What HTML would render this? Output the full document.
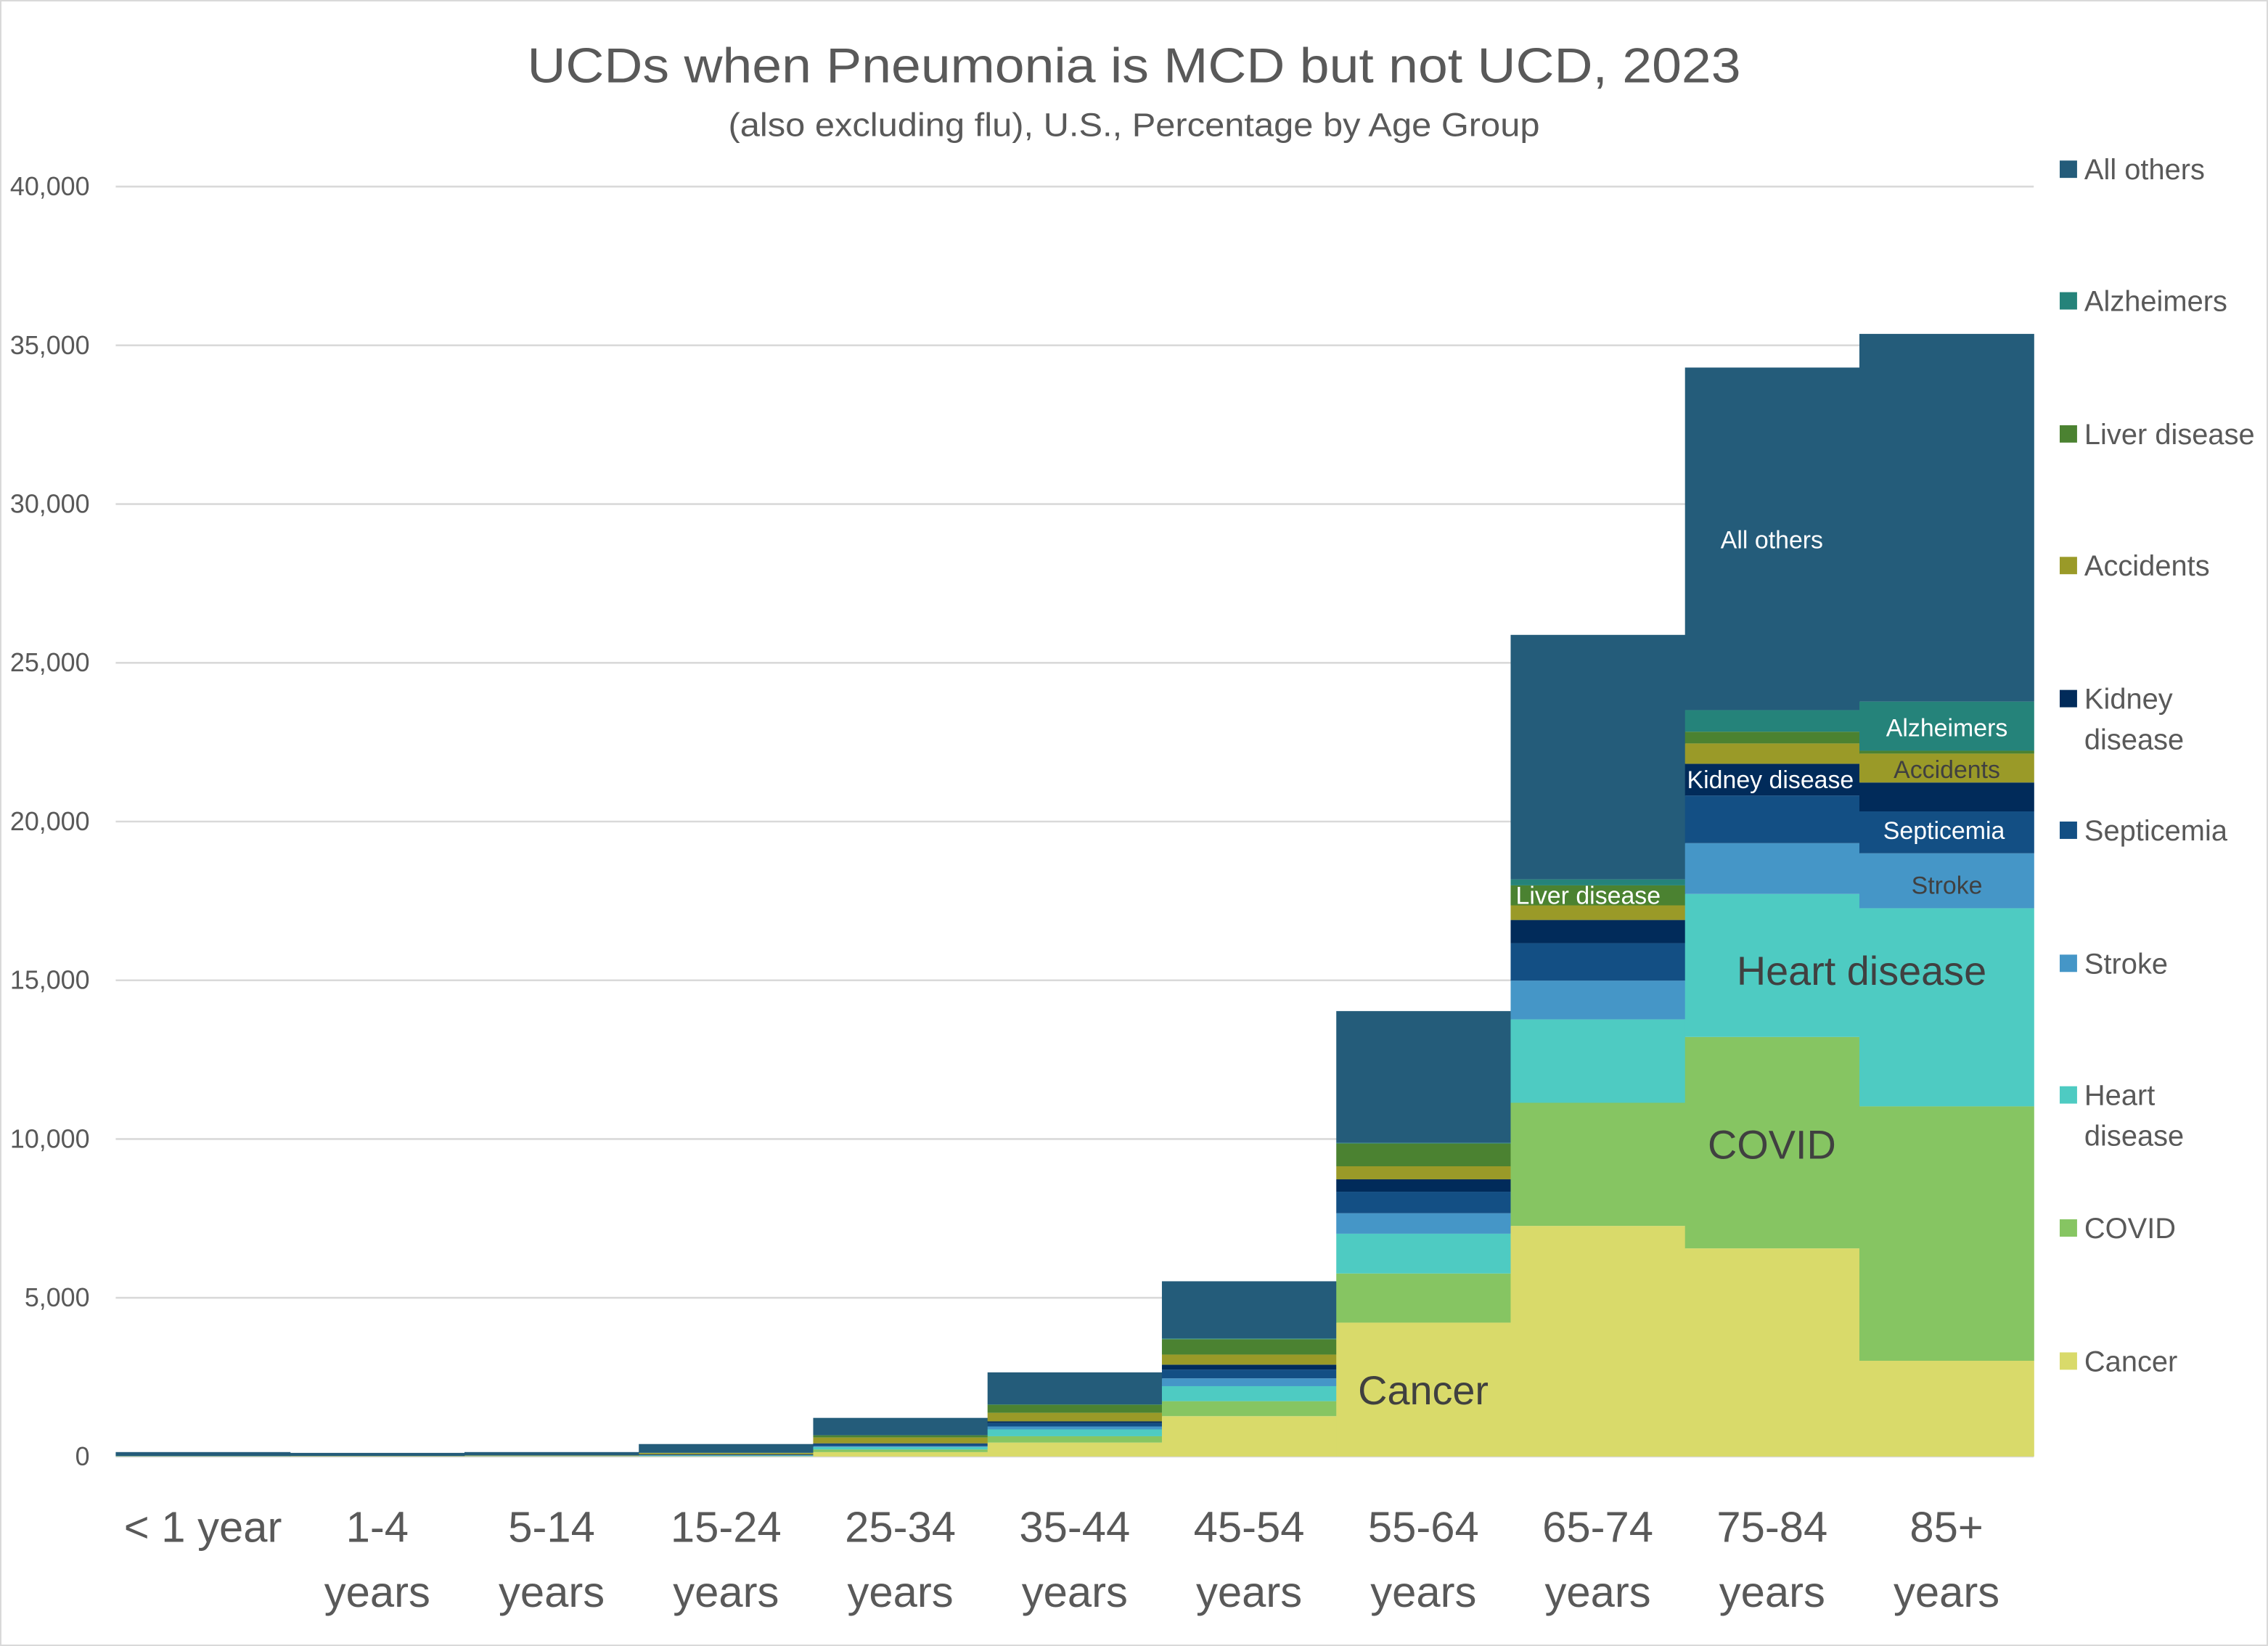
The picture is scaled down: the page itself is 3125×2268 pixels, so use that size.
<!DOCTYPE html>
<html><head><meta charset="utf-8"><style>
html,body{margin:0;padding:0;background:#fff;}
svg{display:block;font-family:"Liberation Sans","DejaVu Sans",sans-serif;}
</style></head><body>
<svg id="chart" width="3125" height="2268" viewBox="0 0 1568 1138" preserveAspectRatio="none" xmlns="http://www.w3.org/2000/svg">
<rect x="0.5" y="0.5" width="1567" height="1137" fill="#fff" stroke="#d9d9d9"/>
<text x="784" y="57" text-anchor="middle" font-size="34" fill="#595959" textLength="839" lengthAdjust="spacingAndGlyphs">UCDs when Pneumonia is MCD but not UCD, 2023</text>
<text x="784" y="94" text-anchor="middle" font-size="23" fill="#595959" textLength="561" lengthAdjust="spacingAndGlyphs">(also excluding flu), U.S., Percentage by Age Group</text>
<g id="grid"></g><g id="bars"></g><g id="ylabels"></g><g id="xlabels"></g><g id="inlabels"></g><g id="legend"></g>
</svg>
<script>
const categories = ["< 1 year","1-4 years","5-14 years","15-24 years","25-34 years","35-44 years","45-54 years","55-64 years","65-74 years","75-84 years","85+ years"];
const seriesNames = ["Cancer","COVID","Heart disease","Stroke","Septicemia","Kidney disease","Accidents","Liver disease","Alzheimers","All others"];
const cancer     = [0,5,10,5,139,439,1272,4217,7264,6556,3016];
const covid      = [5,5,5,10,84,200,472,1549,3878,6659,8014];
const heart      = [5,0,5,15,77,216,472,1252,2627,4505,6240];
const stroke     = [0,0,0,15,23,92,246,646,1221,1600,1730];
const septicemia = [5,5,5,8,70,108,277,677,1180,1500,1320];
const kidney     = [0,0,0,15,23,54,154,390,730,1000,910];
const accidents  = [5,5,10,40,184,269,318,411,460,640,910];
const liver      = [0,0,0,10,70,254,483,718,630,370,90];
const alzheimers = [0,0,0,0,0,10,26,20,190,680,1550];
const allOthers  = [120,95,105,275,547,1008,1800,4150,7700,10790,11580];
const yTicks = [0,5000,10000,15000,20000,25000,30000,35000,40000];
const colors = ["#D9DA6A","#86C562","#4ECBC2","#4596C7","#134F84","#012B5A","#9A9A28","#4B8231","#25837A","#245C7A"];
const series = [cancer,covid,heart,stroke,septicemia,kidney,accidents,liver,alzheimers,allOthers];
const NS="http://www.w3.org/2000/svg";
const X0=80, BW=120.55, Y0=1007, K=878/40000;
function xs(i){return X0+i*BW;}
function ys(v){return Y0-v*K;}
function mk(tag,attrs,parent){const e=document.createElementNS(NS,tag);for(const k in attrs)e.setAttribute(k,attrs[k]);parent.appendChild(e);return e;}
const grid=document.getElementById('grid'), ylab=document.getElementById('ylabels');
yTicks.forEach(t=>{
  const l=mk('line',{x1:X0,x2:X0+11*BW,y1:ys(t),y2:ys(t),stroke:'#d9d9d9','stroke-width':1.3},grid);
  
  
  const tx=mk('text',{x:62,y:ys(t)+6,'text-anchor':'end','font-size':18,fill:'#595959'},ylab);
  tx.textContent=t.toLocaleString('en-US');
  
  
});
const bars=document.getElementById('bars');
categories.forEach((c,i)=>{
  let cum=0;
  series.forEach((s,j)=>{
    const v=s[i]; if(v<=0) return;
    const r=mk('rect',{x:xs(i),y:ys(cum+v),width:BW+0.3,height:v*K,fill:colors[j]},bars);
    
    
    cum+=v;
  });
});
const xl=document.getElementById('xlabels');
categories.forEach((c,i)=>{
  const t=mk('text',{'text-anchor':'middle','font-size':30,fill:'#595959'},xl);
  
  
  const parts=c==="< 1 year"?[c]:c.split(' ');
  parts.forEach((p,k)=>{const ts=mk('tspan',{x:xs(i)+BW/2,y:1066+k*45},t);ts.textContent=p;});
});
const inl=document.getElementById('inlabels');
const inLabels=[["Cancer",984,971,28,"#404040"],["COVID",1225,801,28,"#404040"],["Heart disease",1287,681,28,"#404040"],["All others",1225,379,17,"#fff"],["Liver disease",1098,625,17,"#fff"],["Kidney disease",1224,545,17,"#fff"],["Alzheimers",1346,509,17,"#fff"],["Accidents",1346,538,17,"#404040"],["Septicemia",1344,580,17,"#fff"],["Stroke",1346,618,17,"#404040"]];
inLabels.forEach(l=>{
  const t=mk('text',{x:l[1],y:l[2],'text-anchor':'middle','font-size':l[3],fill:l[4]},inl);
  t.textContent=l[0];
  
  
});
const lg=document.getElementById('legend');
const legY=[117,208,300,391,483,574,666,757,849,941];
const legOrder=[9,8,7,6,5,4,3,2,1,0];
legOrder.forEach((j,k)=>{
  const g=mk('g',{},lg);
  
  
  mk('rect',{x:1424,y:legY[k]-6,width:12,height:12,fill:colors[j]},g);
  const t=mk('text',{'font-size':20,fill:'#595959'},g);
  const words=(seriesNames[j]==="Kidney disease"||seriesNames[j]==="Heart disease")?seriesNames[j].split(' '):[seriesNames[j]];
  words.forEach((w,m)=>{const ts=mk('tspan',{x:1441,y:legY[k]+7+m*28},t);ts.textContent=w;});
});
</script>
</body></html>
